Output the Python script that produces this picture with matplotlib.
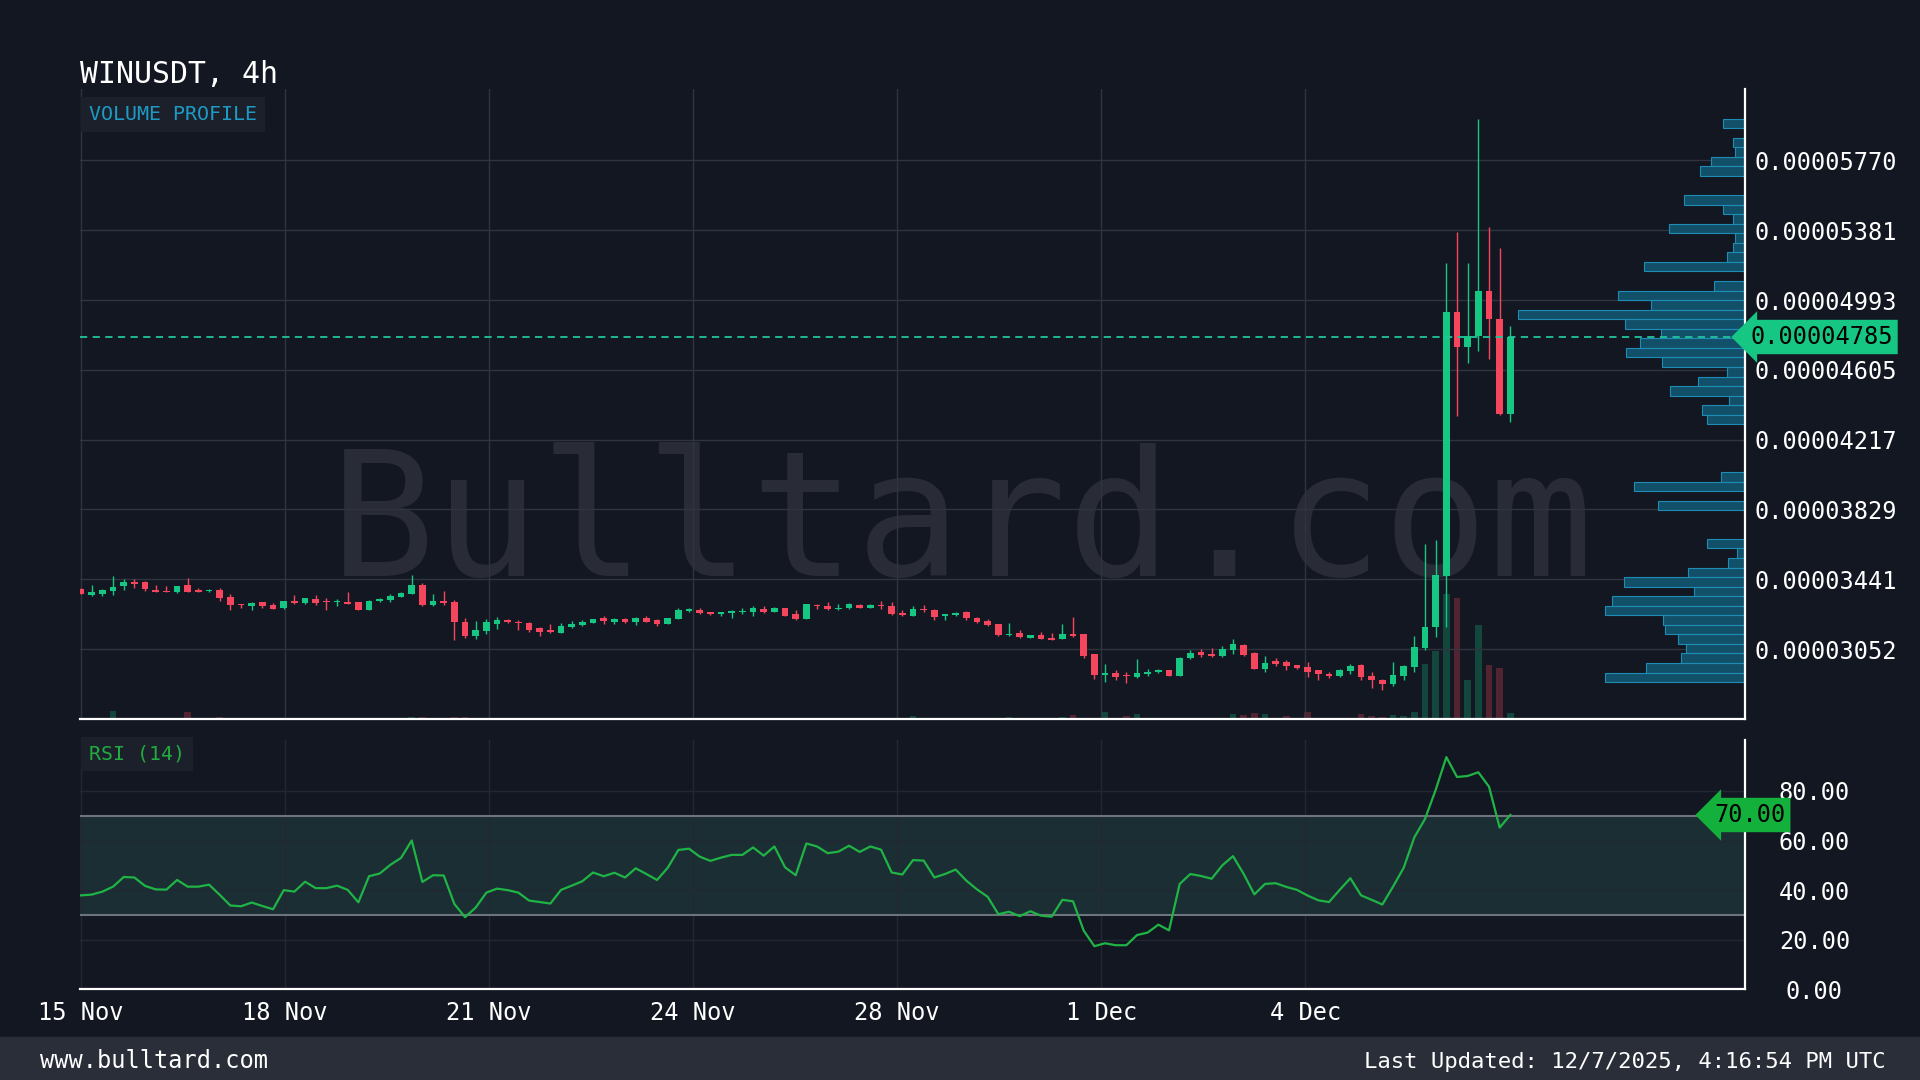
import numpy as np
import matplotlib
matplotlib.use('Agg')
import matplotlib.pyplot as plt
from matplotlib.patches import Rectangle

plt.rcParams['font.family'] = ['DejaVu Sans Mono']

#--------------------#
# DATA (prices in units of 1e-5 USDT, one candle per 4h)
SCALE = 1e-5

opens = [3.386, 3.350, 3.360, 3.374, 3.404, 3.426, 3.423, 3.378, 3.374, 3.367,
         3.408, 3.382, 3.373, 3.382, 3.341, 3.302, 3.293, 3.311, 3.295, 3.278,
         3.319, 3.308, 3.330, 3.319, 3.311, 3.311, 3.311, 3.271, 3.319, 3.323,
         3.341, 3.360, 3.411, 3.297, 3.319, 3.315, 3.204, 3.122, 3.152, 3.193,
         3.211, 3.204, 3.197, 3.167, 3.156, 3.141, 3.176, 3.186, 3.198, 3.223,
         3.204, 3.219, 3.200, 3.226, 3.211, 3.193, 3.219, 3.263, 3.271, 3.256,
         3.245, 3.250, 3.258, 3.256, 3.274, 3.260, 3.278, 3.245, 3.219, 3.297,
         3.293, 3.274, 3.278, 3.297, 3.282, 3.297, 3.293, 3.252, 3.237, 3.274,
         3.271, 3.234, 3.239, 3.256, 3.226, 3.210, 3.191, 3.130, 3.141, 3.115,
         3.130, 3.115, 3.108, 3.134, 3.134, 3.023, 2.908, 2.919, 2.908, 2.897,
         2.915, 2.923, 2.934, 2.904, 3.000, 3.034, 3.023, 3.011, 3.045, 3.074,
         3.030, 2.941, 2.986, 2.982, 2.963, 2.952, 2.934, 2.915, 2.904, 2.930,
         2.963, 2.900, 2.882, 2.860, 2.904, 2.950, 3.058, 3.176, 3.458, 4.927,
         4.730, 4.793, 5.042, 4.889, 4.359]

highs = [3.389, 3.408, 3.386, 3.456, 3.441, 3.441, 3.430, 3.411, 3.404, 3.404,
         3.445, 3.389, 3.386, 3.389, 3.360, 3.304, 3.311, 3.315, 3.308, 3.321,
         3.352, 3.337, 3.352, 3.334, 3.330, 3.367, 3.315, 3.324, 3.337, 3.356,
         3.367, 3.463, 3.419, 3.356, 3.374, 3.323, 3.226, 3.208, 3.219, 3.230,
         3.219, 3.211, 3.200, 3.174, 3.189, 3.197, 3.208, 3.211, 3.221, 3.234,
         3.223, 3.226, 3.230, 3.237, 3.219, 3.224, 3.278, 3.282, 3.282, 3.258,
         3.260, 3.267, 3.278, 3.293, 3.289, 3.285, 3.280, 3.267, 3.302, 3.304,
         3.311, 3.304, 3.308, 3.300, 3.304, 3.319, 3.311, 3.267, 3.289, 3.297,
         3.274, 3.248, 3.258, 3.263, 3.230, 3.219, 3.193, 3.197, 3.156, 3.132,
         3.148, 3.141, 3.189, 3.230, 3.137, 3.026, 2.967, 2.934, 2.926, 2.997,
         2.941, 2.941, 2.937, 3.008, 3.045, 3.052, 3.056, 3.067, 3.108, 3.082,
         3.034, 3.015, 3.000, 2.993, 2.965, 2.982, 2.937, 2.923, 2.941, 2.967,
         2.967, 2.926, 2.885, 2.978, 2.963, 3.124, 3.636, 3.658, 5.201, 5.372,
         5.201, 6.002, 5.401, 5.283, 4.849]

lows = [3.356, 3.348, 3.348, 3.352, 3.382, 3.389, 3.374, 3.369, 3.369, 3.365,
        3.367, 3.367, 3.367, 3.319, 3.271, 3.278, 3.271, 3.282, 3.274, 3.276,
        3.304, 3.304, 3.297, 3.271, 3.289, 3.302, 3.267, 3.269, 3.311, 3.315,
        3.339, 3.356, 3.293, 3.289, 3.297, 3.100, 3.115, 3.108, 3.137, 3.163,
        3.197, 3.156, 3.148, 3.126, 3.143, 3.139, 3.171, 3.182, 3.197, 3.189,
        3.193, 3.197, 3.186, 3.200, 3.182, 3.191, 3.217, 3.260, 3.248, 3.243,
        3.237, 3.226, 3.245, 3.237, 3.252, 3.256, 3.235, 3.211, 3.217, 3.274,
        3.271, 3.271, 3.274, 3.278, 3.280, 3.274, 3.241, 3.237, 3.234, 3.260,
        3.211, 3.211, 3.237, 3.215, 3.197, 3.182, 3.126, 3.126, 3.115, 3.113,
        3.106, 3.102, 3.106, 3.121, 3.000, 2.885, 2.871, 2.882, 2.863, 2.889,
        2.904, 2.919, 2.900, 2.900, 2.997, 3.008, 3.008, 3.008, 3.023, 3.011,
        2.939, 2.926, 2.956, 2.934, 2.941, 2.897, 2.882, 2.889, 2.897, 2.915,
        2.878, 2.837, 2.826, 2.845, 2.878, 2.926, 3.046, 3.120, 3.176, 4.348,
        4.645, 4.711, 4.667, 4.352, 4.315]

closes = [3.360, 3.369, 3.378, 3.398, 3.426, 3.415, 3.386, 3.371, 3.371, 3.400,
          3.371, 3.371, 3.380, 3.337, 3.297, 3.295, 3.308, 3.289, 3.276, 3.319,
          3.308, 3.334, 3.308, 3.311, 3.321, 3.304, 3.271, 3.321, 3.330, 3.348,
          3.363, 3.408, 3.297, 3.319, 3.308, 3.200, 3.122, 3.156, 3.204, 3.215,
          3.200, 3.197, 3.156, 3.148, 3.145, 3.178, 3.191, 3.204, 3.219, 3.208,
          3.219, 3.200, 3.226, 3.204, 3.193, 3.223, 3.271, 3.274, 3.252, 3.245,
          3.256, 3.261, 3.261, 3.278, 3.256, 3.282, 3.237, 3.219, 3.300, 3.289,
          3.274, 3.282, 3.300, 3.282, 3.298, 3.289, 3.245, 3.241, 3.274, 3.267,
          3.230, 3.245, 3.254, 3.226, 3.204, 3.186, 3.130, 3.137, 3.119, 3.130,
          3.108, 3.104, 3.134, 3.122, 3.011, 2.908, 2.919, 2.897, 2.900, 2.919,
          2.926, 2.937, 2.904, 3.004, 3.030, 3.019, 3.011, 3.052, 3.078, 3.019,
          2.941, 2.974, 2.971, 2.960, 2.948, 2.926, 2.911, 2.900, 2.934, 2.960,
          2.897, 2.878, 2.860, 2.908, 2.956, 3.061, 3.173, 3.462, 4.927, 4.730,
          4.793, 5.045, 4.889, 4.359, 4.785]

# relative volume per candle
volumes = [1, 1, 1, 8.3, 1, 1, 1, 1, 1, 1,
           7, 1, 1, 2.3, 1, 1, 1, 1, 1, 1,
           1, 1, 1, 1, 1, 1, 1, 1, 1, 1,
           1, 1.5, 1.5, 1, 1, 2, 1.5, 1, 1, 1,
           1, 1, 1, 1, 1, 1, 1, 1, 1, 1,
           1, 1, 1, 1, 1, 1, 1, 1, 1, 1,
           1, 1, 1, 1, 1, 1, 1, 1, 1, 1,
           1, 1, 1, 1, 1, 1, 1, 1, 2.7, 1,
           1, 1, 1, 1, 1, 1, 1, 2.3, 1, 1,
           1.3, 1, 2, 4, 1, 1, 6.7, 1, 3.3, 4.7,
           1, 1, 1, 1, 1, 1, 1, 1, 5.3, 4,
           6, 5.3, 1, 2.7, 1, 7.3, 1, 1, 1, 1,
           4.7, 3.3, 2, 4, 2.7, 6.7, 54.7, 68, 125.3, 120.7,
           39.3, 94, 54, 51.3, 6]

rsi = [37.9, 38.2, 39.4, 41.4, 45.3, 45.1, 41.7, 40.3, 40.2, 44.1,
       41.4, 41.4, 42.2, 38.1, 33.8, 33.5, 35.0, 33.6, 32.3, 40.0,
       39.4, 43.4, 40.8, 40.8, 41.8, 40.1, 35.1, 45.6, 46.7, 50.2,
       53.0, 60.0, 43.3, 46.0, 45.9, 34.4, 29.1, 33.0, 39.0, 40.6,
       40.0, 39.0, 35.8, 35.2, 34.6, 40.1, 41.8, 43.6, 47.1, 45.6,
       47.0, 45.1, 48.8, 46.5, 44.1, 49.0, 56.2, 56.7, 53.5, 51.8,
       53.1, 54.2, 54.2, 57.2, 53.9, 57.6, 49.2, 46.0, 58.8, 57.6,
       54.9, 55.5, 57.9, 55.4, 57.6, 56.3, 47.1, 46.3, 52.1, 51.9,
       45.1, 46.5, 48.3, 43.8, 40.3, 37.3, 30.3, 31.3, 29.5, 31.5,
       29.7, 29.3, 36.1, 35.5, 23.7, 17.4, 18.6, 17.8, 17.8, 21.9,
       22.9, 26.1, 23.8, 42.5, 46.5, 45.7, 44.6, 50.0, 53.7, 46.5,
       38.3, 42.5, 42.8, 41.3, 40.1, 37.8, 35.9, 35.2, 40.1, 44.8,
       37.9, 36.1, 34.2, 41.4, 49.0, 61.3, 68.7, 80.4, 93.6, 85.6,
       86.0, 87.5, 81.7, 65.2, 70.3]

# volume profile, bins from top price to bottom price
vp_top = 6.002
vp_bottom = 2.868
vp_volumes = [21.7, 0, 12, 10.3, 33.7, 45, 0, 0, 61.3, 22.3,
              12, 76.3, 10.3, 12, 18.3, 101, 0, 31, 127, 94.3,
              227.7, 120.3, 84.3, 105.3, 119.3, 83, 18.3, 47, 75.3, 16.3,
              43.3, 37.7, 0, 0, 0, 0, 0, 24.3, 111, 0,
              86.7, 0, 0, 0, 38.3, 8.3, 17.3, 57, 121.7, 51.3,
              133.3, 140.7, 82, 79.7, 67.3, 59, 64, 99, 140.3]

price_ticks = [3.052, 3.441, 3.829, 4.217, 4.605, 4.993, 5.381, 5.770]
date_labels = ['15 Nov', '18 Nov', '21 Nov', '24 Nov', '28 Nov', '1 Dec', '4 Dec']
rsi_ticks = [0, 20, 40, 60, 80]

#--------------------#
# STYLE
BG = '#131722'
GREEN = '#16c784'
RED = '#f6465d'
GRID = '#30343f'

o = np.array(opens) * SCALE
h = np.array(highs) * SCALE
l = np.array(lows) * SCALE
c = np.array(closes) * SCALE
vol = np.array(volumes)
x = np.arange(len(o))
up = c >= o
cols = np.where(up, GREEN, RED)

XMAX = 156
date_pos = np.arange(len(date_labels)) * 19.13


def px_box(left, top, right, bottom):
    return [left / 1920, 1 - bottom / 1080, (right - left) / 1920, (bottom - top) / 1080]


fig = plt.figure(figsize=(19.2, 10.8), dpi=100, facecolor=BG)
ax = fig.add_axes(px_box(80, 89, 1745, 719))
axv = ax.twinx()
ax_rsi = fig.add_axes(px_box(80, 740, 1745, 989.4))
ax_rsi.set_facecolor(BG)

ax.set_zorder(2)
ax.patch.set_visible(False)
axv.set_zorder(1)

#--------------------#
# PRICE PANE
ax.set_xlim(-0.1, XMAX)
ax.set_ylim(2.663 * SCALE, 6.167 * SCALE)

ax.text(0.53, 0.228, 'Bulltard.com', transform=ax.transAxes, ha='center', va='baseline',
        fontsize=126, color='#292c36', zorder=0.5)

# volume profile
edges = np.linspace(vp_top, vp_bottom, len(vp_volumes) + 1) * SCALE
centers = (edges[:-1] + edges[1:]) / 2
bin_h = abs(edges[0] - edges[1])
vp = np.array(vp_volumes)
vp_w = vp / vp.max() * 21.3
mask = vp > 0
ax.barh(centers[mask], vp_w[mask], left=XMAX - vp_w[mask], height=bin_h,
        color='#125069', edgecolor='#1e8cb4', linewidth=0.8, zorder=2)

# candles
ax.vlines(x, l, h, colors=cols, linewidth=1, zorder=3)
body = np.maximum(np.abs(c - o), 0.006 * SCALE)
ax.bar(x, body, bottom=np.minimum(o, c), width=0.62, color=cols, linewidth=0, zorder=4)

# last price
ax.axhline(c[-1], color='#21c49a', lw=1.3, ls=(0, (4, 3)), zorder=5)

ax.yaxis.tick_right()
ax.set_yticks(np.array(price_ticks) * SCALE)
ax.set_yticklabels(['%.8f' % (v * SCALE) for v in price_ticks])
ax.set_xticks(date_pos)
ax.tick_params(axis='y', length=0, pad=7, labelsize=17, labelcolor='white')
ax.tick_params(axis='x', length=0, labelbottom=False)
ax.grid(True, color=GRID, lw=1)
ax.set_axisbelow(True)
for s in ['left', 'top']:
    ax.spines[s].set_visible(False)
for s in ['right', 'bottom']:
    ax.spines[s].set_color('white')
    ax.spines[s].set_linewidth(1.6)

# volume bars
axv.bar(x, vol, width=0.62, color=cols, alpha=0.28, linewidth=0)
axv.set_ylim(0, vol.max() / 0.199)
axv.set_yticks([])
for s in axv.spines.values():
    s.set_visible(False)

#--------------------#
# RSI PANE
ax_rsi.set_xlim(-0.1, XMAX)
ax_rsi.set_ylim(0, 100.5)
ax_rsi.axhspan(30, 70, color='#1b2e33', zorder=0.5, lw=0)
ax_rsi.axhline(70, color='#6e737d', lw=1.5, zorder=1)
ax_rsi.axhline(30, color='#6e737d', lw=1.5, zorder=1)
ax_rsi.plot(x, rsi, color='#1fb445', lw=1.6, zorder=3)

ax_rsi.yaxis.tick_right()
ax_rsi.set_yticks(rsi_ticks)
ax_rsi.set_yticklabels(['%.2f' % v for v in rsi_ticks], ha='center')
ax_rsi.set_xticks(date_pos)
ax_rsi.set_xticklabels(date_labels)
ax_rsi.tick_params(axis='y', length=0, pad=50, labelsize=17, labelcolor='white')
ax_rsi.tick_params(axis='x', length=0, pad=8.5, labelsize=17, labelcolor='white')
ax_rsi.grid(True, color='#232733', lw=1)
ax_rsi.set_axisbelow(True)
for s in ['left', 'top']:
    ax_rsi.spines[s].set_visible(False)
for s in ['right', 'bottom']:
    ax_rsi.spines[s].set_color('white')
    ax_rsi.spines[s].set_linewidth(1.6)

#--------------------#
# LABELS
fig.text(80 / 1920, 1 - 83 / 1080, 'WINUSDT, 4h', fontsize=21.5, color='white', va='baseline')
fig.text(89 / 1920, 1 - 114 / 1080, 'VOLUME PROFILE', fontsize=14.4, color='#1e9bc4', va='center',
         bbox=dict(boxstyle='square,pad=0.4', fc='#1b202b', ec='none'))
fig.text(89 / 1920, 1 - 754 / 1080, 'RSI (14)', fontsize=14.3, color='#22ab3f', va='center',
         bbox=dict(boxstyle='square,pad=0.4', fc='#1b202b', ec='none'))

fig.text(1750 / 1920, 1 - 337 / 1080, '%.8f' % c[-1], fontsize=17, color='black', va='center',
         zorder=10, bbox=dict(boxstyle='larrow,pad=0.22', fc=GREEN, ec='none'))
fig.text(1714 / 1920, 1 - 815 / 1080, '70.00', fontsize=17, color='black', va='center',
         zorder=10, bbox=dict(boxstyle='larrow,pad=0.22', fc='#13b13c', ec='none'))

# footer
fig.add_artist(Rectangle((0, 0), 1, 43 / 1080, transform=fig.transFigure,
                         color='#2a2e39', zorder=0))
fig.text(40 / 1920, 1 - 1061.5 / 1080, 'www.bulltard.com', fontsize=17, color='white', va='center')
fig.text(1886 / 1920, 1 - 1061.5 / 1080, 'Last Updated: 12/7/2025, 4:16:54 PM UTC', fontsize=16,
         color='white', va='center', ha='right')

plt.savefig('out.png', dpi=100, facecolor=BG)
